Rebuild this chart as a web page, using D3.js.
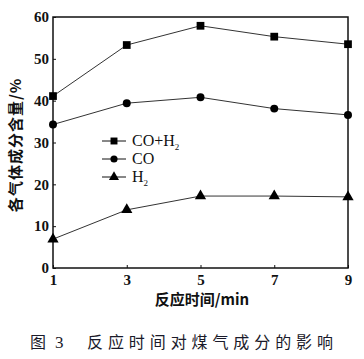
<!DOCTYPE html>
<html>
<head>
<meta charset="utf-8">
<script src="https://cdn.jsdelivr.net/npm/d3@7"></script>
<style>
  body { margin: 0; background: #fff; }
  svg { display: block; }
  .tick text { font-family: "Liberation Serif", serif; font-weight: bold; font-size: 15px; fill: #111; }
</style>
</head>
<body>
<div class="chart"></div>
<script>
// Data
const times = [1, 3, 5, 7, 9];
const coH2 = [41.1, 53.3, 57.9, 55.3, 53.5];
const co = [34.3, 39.4, 40.8, 38.1, 36.6];
const h2 = [6.9, 13.9, 17.2, 17.2, 17.0];
const yTicks = [0, 10, 20, 30, 40, 50, 60];
const seriesNames = ['CO+H2', 'CO', 'H2'];

const width = 364, height = 359;
const margin = {top: 17, right: 16, bottom: 91, left: 53};
const plotW = width - margin.left - margin.right;
const plotH = height - margin.top - margin.bottom;

const svg = d3.select('.chart').append('svg')
    .attr('width', width)
    .attr('height', height);

const x = d3.scaleLinear().domain([1, 9]).range([0, plotW]);
const y = d3.scaleLinear().domain([0, 60]).range([plotH, 0]);

const g = svg.append('g')
    .attr('transform', `translate(${margin.left}, ${margin.top})`);

// frame
g.append('rect')
    .attr('width', plotW)
    .attr('height', plotH)
    .attr('fill', 'none')
    .attr('stroke', '#111')
    .attr('stroke-width', 1.5);

// axes
const axisX = d3.axisBottom(x).tickValues(times).tickSize(-3).tickPadding(6);
const axisY = d3.axisLeft(y).tickValues(yTicks).tickSize(-3).tickPadding(4);

g.append('g')
    .attr('transform', `translate(0, ${plotH})`)
    .call(axisX)
    .call(s => s.select('.domain').remove())
    .call(s => s.selectAll('line').attr('stroke', '#111'));

g.append('g')
    .call(axisY)
    .call(s => s.select('.domain').remove())
    .call(s => s.selectAll('line').attr('stroke', '#111'));

// series
const allSeries = [
  {name: seriesNames[0], values: coH2, shape: d3.symbolSquare, size: 60},
  {name: seriesNames[1], values: co, shape: d3.symbolCircle, size: 50},
  {name: seriesNames[2], values: h2, shape: d3.symbolTriangle, size: 55}
];

const line = d3.line()
    .x((d, i) => x(times[i]))
    .y(d => y(d));

allSeries.forEach(s => {
  g.append('path')
      .datum(s.values)
      .attr('fill', 'none')
      .attr('stroke', '#333')
      .attr('stroke-width', 1)
      .attr('d', line);

  g.selectAll(null)
      .data(s.values)
      .enter()
      .append('path')
      .attr('transform', (d, i) => `translate(${x(times[i])}, ${y(d)})`)
      .attr('d', d3.symbol().type(s.shape).size(s.size))
      .attr('fill', '#000');
});

// legend
const legend = svg.append('g').attr('transform', 'translate(102, 141)');
allSeries.forEach((s, i) => {
  const row = legend.append('g').attr('transform', `translate(0, ${i * 18})`);
  row.append('line')
      .attr('x1', 0).attr('x2', 24)
      .attr('stroke', '#111').attr('stroke-width', 1);
  row.append('path')
      .attr('transform', 'translate(12, 0)')
      .attr('d', d3.symbol().type(s.shape).size(s.size * 0.8))
      .attr('fill', '#000');
  const t = row.append('text')
      .attr('x', 30).attr('y', 5)
      .style('font-family', '"Liberation Serif", serif')
      .style('font-size', '16px')
      .attr('fill', '#111');
  if (s.name.endsWith('2')) {
    t.append('tspan').text(s.name.slice(0, -1));
    t.append('tspan').text('2').attr('dy', 4).style('font-size', '9px');
  } else {
    t.text(s.name);
  }
});

// axis titles
svg.append('text')
    .attr('transform', `translate(21, 145) rotate(-90)`)
    .attr('text-anchor', 'middle')
    .style('font-family', '"Noto Sans CJK SC", sans-serif')
    .style('font-weight', 'bold')
    .style('font-size', '15px')
    .style('letter-spacing', '1px')
    .attr('fill', '#111')
    .text('各气体成分含量/%');

svg.append('text')
    .attr('x', 202).attr('y', 305)
    .attr('text-anchor', 'middle')
    .style('font-family', '"Noto Sans CJK SC", sans-serif')
    .style('font-weight', 'bold')
    .style('font-size', '15px')
    .attr('fill', '#111')
    .text('反应时间/min');

// caption
const capStyle = t => t
    .attr('y', 348)
    .style('font-family', '"Noto Sans CJK SC", sans-serif')
    .style('font-size', '16px')
    .attr('fill', '#1a1a2a');
svg.append('text').call(capStyle).attr('x', 30).text('图');
svg.append('text').call(capStyle).attr('x', 55)
    .style('font-family', '"Liberation Serif", serif').style('font-size', '17px').text('3');
svg.append('text').call(capStyle).attr('x', 87)
    .attr('textLength', 246).attr('lengthAdjust', 'spacing')
    .text('反应时间对煤气成分的影响');
</script>
</body>
</html>
